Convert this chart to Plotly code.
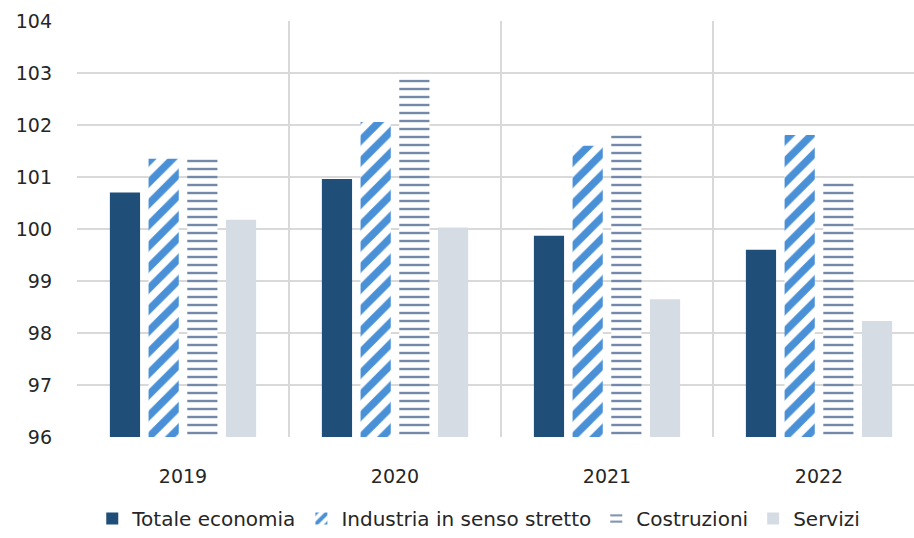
import plotly.graph_objects as go

years = ["2019", "2020", "2021", "2022"]
totale = [100.70, 100.96, 99.87, 99.60]
industria = [101.35, 102.06, 101.60, 101.81]
costruzioni = [101.37, 102.88, 101.81, 100.91]
servizi = [100.18, 100.03, 98.65, 98.23]

fig = go.Figure()
fig.add_trace(go.Bar(name="Totale economia", x=years, y=totale,
                     marker=dict(color="#1F4E79", line=dict(width=0))))
fig.add_trace(go.Bar(name="Industria in senso stretto", x=years, y=industria,
                     marker=dict(color="#4A90D6", line=dict(width=0),
                                 pattern=dict(shape="/", fgcolor="#4A90D6", bgcolor="white",
                                              fgopacity=1, size=15, solidity=0.5))))
fig.add_trace(go.Bar(name="Costruzioni", x=years, y=costruzioni,
                     marker=dict(color="#7489AA", line=dict(width=0),
                                 pattern=dict(shape="-", fgcolor="#7489AA", bgcolor="white",
                                              fgopacity=1, size=8, solidity=0.3))))
fig.add_trace(go.Bar(name="Servizi", x=years, y=servizi,
                     marker=dict(color="#D6DCE4", line=dict(width=0))))

fig.update_layout(
    width=914, height=538,
    margin=dict(l=77, r=0, t=21, b=101, autoexpand=False),
    plot_bgcolor="white", paper_bgcolor="white",
    barmode="group", bargap=0.27, bargroupgap=0.22,
    font=dict(family="DejaVu Sans", size=19, color="#262626"),
    showlegend=True,
    legend=dict(orientation="h", x=0.48, xanchor="center",
                yref="container", y=0.0, yanchor="bottom",
                font=dict(family="DejaVu Sans", size=20, color="#262626"),
                traceorder="normal", itemwidth=30),
    xaxis=dict(type="category", range=[-0.5, 3.448], tickson="boundaries",
               showgrid=True, gridcolor="#D9D9D9", gridwidth=2, ticks="",
               showline=False, zeroline=False, ticklabelstandoff=26,
               tickfont=dict(family="DejaVu Sans", size=19)),
    yaxis=dict(range=[96, 104], dtick=1, showgrid=True, gridcolor="#D9D9D9", gridwidth=2,
               zeroline=False, showline=False, ticks="", ticklabelstandoff=24,
               tickfont=dict(family="DejaVu Sans", size=19)),
)
fig.write_html("out.html")
